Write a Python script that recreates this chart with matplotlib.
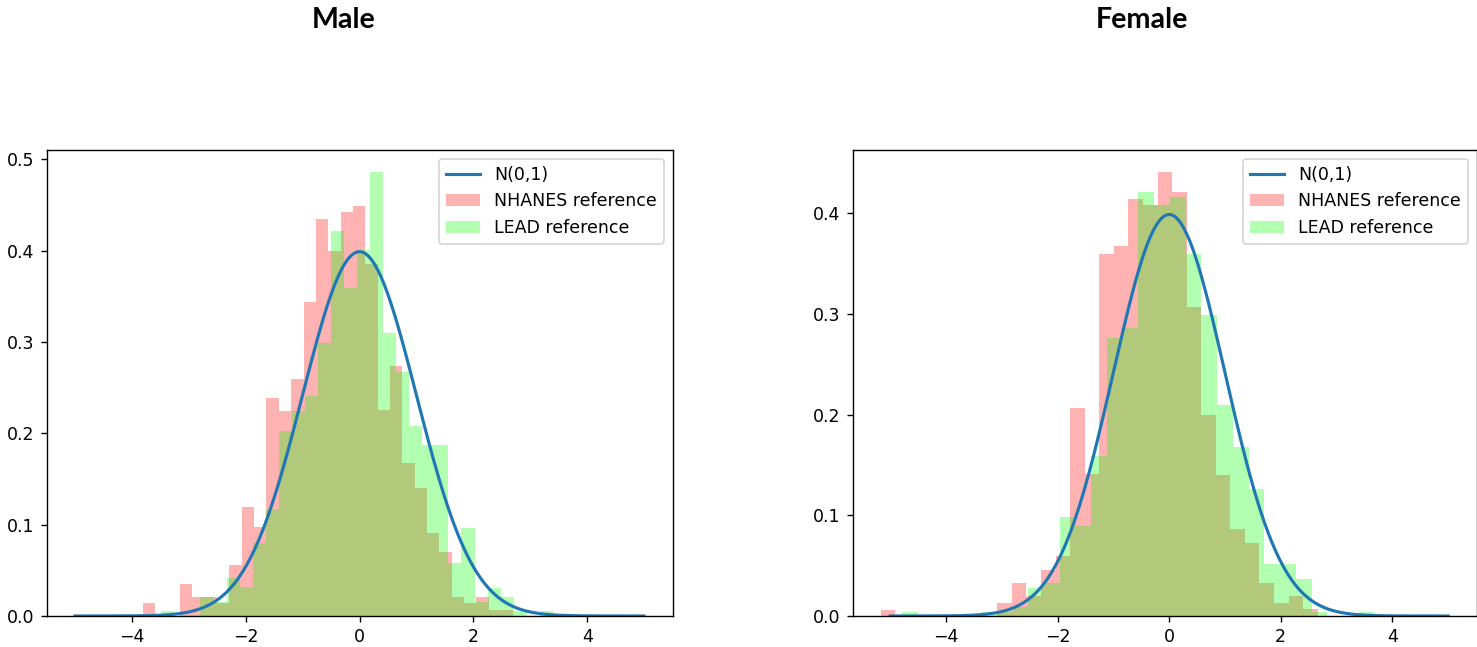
import numpy as np
import matplotlib
matplotlib.use('Agg')
import matplotlib.pyplot as plt

# histogram densities (30 bins each, range = first/last bin edge)
male_nhanes_range = (-3.805, 2.705)
male_nhanes = [0.0139, 0, 0, 0.035, 0.021, 0.021, 0.014, 0.056, 0.119, 0.098,
               0.239, 0.225, 0.259, 0.344, 0.435, 0.400, 0.442, 0.449, 0.386, 0.226,
               0.274, 0.168, 0.140, 0.091, 0.070, 0.021, 0.014, 0.021, 0.007, 0.007]
male_lead_range = (-3.482, 3.397)
male_lead = [0.005, 0, 0, 0.021, 0.0157, 0.042, 0.032, 0.080, 0.117, 0.203,
             0.224, 0.241, 0.299, 0.422, 0.359, 0.401, 0.486, 0.310, 0.267, 0.208,
             0.187, 0.187, 0.058, 0.096, 0.0157, 0.031, 0.021, 0.006, 0, 0.005]

female_nhanes_range = (-5.167, 2.663)
female_nhanes = [0.006, 0, 0, 0, 0, 0, 0, 0, 0.013, 0.033,
                 0.020, 0.046, 0.060, 0.207, 0.141, 0.360, 0.368, 0.414, 0.408, 0.441,
                 0.421, 0.307, 0.200, 0.140, 0.086, 0.073, 0.033, 0.013, 0.020, 0.0066]
female_lead_range = (-4.78, 3.68)
female_lead = [0.0043, 0, 0, 0, 0, 0.0043, 0.0043, 0.0087, 0.0275, 0.033,
               0.098, 0.089, 0.159, 0.276, 0.286, 0.421, 0.408, 0.416, 0.360, 0.299,
               0.210, 0.168, 0.126, 0.052, 0.052, 0.037, 0.0043, 0, 0, 0.0043]

panel_titles = ['Male', 'Female']


def draw_hist(ax, rng, dens, color, label):
    edges = np.linspace(rng[0], rng[1], len(dens) + 1)
    centers = (edges[:-1] + edges[1:]) / 2
    ax.hist(centers, bins=edges, weights=dens, color=color, alpha=0.3, label=label)


def draw_panel(ax, nh_range, nh, lead_range, lead):
    x = np.linspace(-5, 5, 500)
    ax.plot(x, np.exp(-x ** 2 / 2) / np.sqrt(2 * np.pi), lw=1.8, label='N(0,1)')
    draw_hist(ax, nh_range, nh, 'red', 'NHANES reference')
    draw_hist(ax, lead_range, lead, 'lime', 'LEAD reference')
    ax.legend(loc='upper right')


W, H = 1477, 647
fig = plt.figure(figsize=(W / 125, H / 125), dpi=125)
ax1 = fig.add_axes([46.5 / W, 31 / H, 626 / W, 466 / H])
ax2 = fig.add_axes([852.5 / W, 31 / H, 624 / W, 466 / H])

draw_panel(ax1, male_nhanes_range, male_nhanes, male_lead_range, male_lead)
draw_panel(ax2, female_nhanes_range, female_nhanes, female_lead_range, female_lead)

# panel headings sit well above the axes
for xc, title in zip([344 / W, 1142 / W], panel_titles):
    fig.text(xc, 1 - 28 / H, title, ha='center', va='baseline',
             fontsize=16.5, fontweight='bold', family=['Lato', 'DejaVu Sans'])

fig.savefig('out.png', dpi=125)
